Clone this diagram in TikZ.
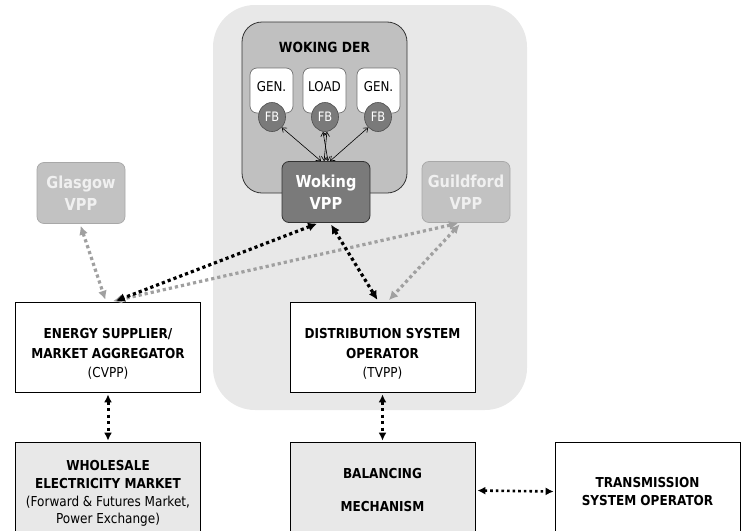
\documentclass[tikz,border=0pt]{standalone}
\usepackage{fontspec}
\setmainfont{DejaVu Sans}[FakeStretch=0.88]
\usetikzlibrary{arrows.meta,calc,shapes.geometric}
\definecolor{regiongray}{HTML}{E8E8E8}
\definecolor{dergray}{HTML}{C0C0C0}
\definecolor{darkgray}{HTML}{7A7A7A}
\definecolor{vppgray}{HTML}{C2C2C2}
\definecolor{vppborder}{HTML}{A8A8A8}
\definecolor{arrgray}{HTML}{A0A0A0}
\definecolor{lighttext}{HTML}{F0F0F0}
\begin{document}
\begin{tikzpicture}[x=1pt,y=-1pt,
  region/.style={fill=regiongray, rounded corners=42pt, minimum width=314pt, minimum height=405pt, inner sep=0pt},
  derbox/.style={draw=black!80, fill=dergray, line width=0.8pt, rounded corners=20pt, minimum width=165pt, minimum height=171pt, inner sep=0pt},
  unitbox/.style={draw=black!55, fill=white, line width=0.7pt, rounded corners=7pt, minimum width=43pt, minimum height=45pt, inner sep=0pt},
  unittext/.style={font=\fontsize{13.5}{15}\selectfont},
  fb/.style={ellipse, draw=black!70, fill=darkgray, line width=0.6pt, minimum width=27pt, minimum height=29pt, inner sep=0pt, text=white, font=\fontsize{13}{14}\selectfont},
  vpp/.style={rounded corners=7pt, minimum width=88pt, minimum height=61pt, inner sep=0pt, align=center, font=\bfseries\fontsize{16.5}{22}\selectfont},
  mainbox/.style={draw=black, line width=0.8pt, minimum width=185pt, inner sep=0pt, align=center, font=\fontsize{13.7}{18.5}\selectfont},
  boxlabel/.style={align=center, font=\fontsize{13.7}{19.3}\selectfont, yshift=-7pt},
  blkarr/.style={line width=3.2pt, dash pattern=on 3.2pt off 3pt, black, {Latex[length=9pt,width=9pt]}-{Latex[length=9pt,width=9pt]}, shorten <=2pt, shorten >=2pt},
  grayarr/.style={line width=3.2pt, dash pattern=on 3.2pt off 3pt, arrgray, {Latex[length=9pt,width=9pt]}-{Latex[length=9pt,width=9pt]}, shorten <=2pt, shorten >=2pt},
  vertarr/.style={line width=3pt, dash pattern=on 3pt off 3.5pt, black, {Latex[length=8pt,width=8pt]}-{Latex[length=8pt,width=8pt]}, shorten <=2pt, shorten >=1pt},
  fbarr/.style={line width=0.6pt, black, {Straight Barb[length=4pt,width=6pt]}-{Straight Barb[length=4pt,width=6pt]}}
]
\useasboundingbox (0,0) rectangle (743,530);

% shaded region
\node[region] (reg) at (370,207.5) {};

% Woking DER
\node[derbox] (der) at (324.5,107.5) {};
\node[font=\bfseries\fontsize{14}{16}\selectfont] (dertitle) at (324.5,47) {WOKING DER};
\node[unitbox] (g1) at (271.5,90.5) {};
\node[unitbox] (ld) at (324.5,90.5) {};
\node[unitbox] (g2) at (378.5,90.5) {};
\node[unittext] (g1t) at (271.5,87) {GEN.};
\node[unittext] (ldt) at (324.5,87) {LOAD};
\node[unittext] (g2t) at (378.5,87) {GEN.};
\node[fb] (fb1) at (272,117) {FB};
\node[fb] (fb2) at (325,117) {FB};
\node[fb] (fb3) at (378,117) {FB};

% VPPs
\node[vpp, draw=black!80, fill=darkgray, line width=0.8pt, text=white] (wok) at (326,192) {Woking\\VPP};
\node[vpp, draw=vppborder, fill=vppgray, line width=0.7pt, text=lighttext] (guild) at (466,192) {Guildford\\VPP};
\node[vpp, draw=vppborder, fill=vppgray, line width=0.7pt, text=lighttext] (glas) at (81,193) {Glasgow\\VPP};

% FB connections
\draw[fbarr] (fb1.south east) -- ([xshift=-5pt]wok.north);
\draw[fbarr] (fb3.south west) -- ([xshift=4pt]wok.north);
\draw[fbarr] ([xshift=-2pt]fb2.south) -- ([xshift=2pt]wok.north);
\draw[fbarr] ([xshift=2pt]fb2.south) -- ([xshift=-2pt]wok.north);

% main boxes
\node[mainbox, fill=white, minimum height=90pt,
  label={[boxlabel]center:{\textbf{ENERGY SUPPLIER/}\\\textbf{MARKET AGGREGATOR}\\(CVPP)}}] (es) at (108,347) {};
\node[mainbox, fill=white, minimum height=90pt,
  label={[boxlabel]center:{\textbf{DISTRIBUTION SYSTEM}\\\textbf{OPERATOR}\\(TVPP)}}] (dso) at (382.5,347) {};
\node[mainbox, fill=regiongray, minimum height=103pt, font=\fontsize{13.7}{17.7}\selectfont] (wem) at (108,493.5) {\textbf{WHOLESALE}\\\textbf{ELECTRICITY MARKET}\\(Forward \& Futures Market,\\Power Exchange)};
\node[mainbox, fill=regiongray, minimum height=97pt] (bm) at (382.5,490.5) {\textbf{BALANCING}\\[14.5pt]\textbf{MECHANISM}};
\node[mainbox, fill=white, minimum height=99pt] (tso) at (647.5,491.5) {\textbf{TRANSMISSION}\\\textbf{SYSTEM OPERATOR}};

% dotted connections
\draw[grayarr] ([xshift=-1pt]glas.south) -- ([xshift=-2pt]es.north);
\draw[grayarr] ([xshift=-6pt]guild.south) -- ([xshift=3pt]es.north);
\draw[grayarr] ([xshift=-5pt]guild.south) -- ([xshift=5pt]dso.north);
\draw[blkarr] ([xshift=-7pt]wok.south) -- ([xshift=6pt]es.north);
\draw[blkarr] ([xshift=4pt]wok.south) -- ([xshift=-4pt]dso.north);
\draw[vertarr] (es.south) -- (wem.north);
\draw[vertarr] (dso.south) -- (bm.north);
\draw[vertarr, line width=2.6pt, dash pattern=on 2.6pt off 3pt] (bm.east) -- (tso.west);
\end{tikzpicture}
\end{document}
